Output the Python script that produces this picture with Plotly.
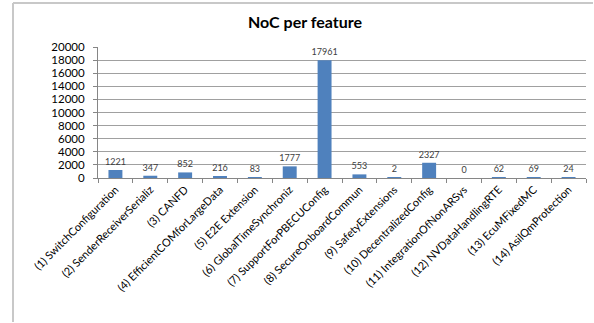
import plotly.graph_objects as go

categories = [
    "(1) SwitchConfiguration", "(2) SenderReceiverSerializ", "(3) CANFD",
    "(4) EfficientCOMforLargeData", "(5) E2E Extension", "(6) GlobalTimeSynchroniz",
    "(7) SupportForPBECUConfig", "(8) SecureOnboardCommun", "(9) SafetyExtensions",
    "(10) DecentralizedConfig", "(11) IntegrationOfNonARSys", "(12) NVDataHandlingRTE",
    "(13) EcuMFixedMC", "(14) AsilQmProtection",
]
values = [1221, 347, 852, 216, 83, 1777, 17961, 553, 2, 2327, 0, 62, 69, 24]
y_ticks = list(range(0, 20001, 2000))

W, H = 594, 323
L, R, T, B = 98, 8, 47, 145
pw, ph = W - L - R, H - T - B

fig = go.Figure(go.Bar(
    x=categories, y=values,
    marker=dict(color="#4F81BD", line=dict(width=0)),
    text=[str(v) for v in values], textposition="outside",
    textfont=dict(size=9, color="#404040", family="Lato"),
    constraintext="none",
    cliponaxis=False, width=0.4,
))

fig.update_layout(
    width=W, height=H,
    margin=dict(l=L, r=R, t=T, b=B),
    paper_bgcolor="white", plot_bgcolor="white",
    font=dict(family="Lato", color="#000000"),
    title=dict(text="<b>NoC per feature</b>", x=305 / W, xanchor="center",
               y=1 - 22 / H, yanchor="middle", font=dict(size=16, family="Lato")),
    showlegend=False,
    xaxis=dict(
        tickangle=-45, tickfont=dict(size=11, color="#000000"),
        showline=True, linecolor="#868686", linewidth=1,
        ticks="outside", ticklen=4, tickcolor="#868686", tickson="boundaries",
        showgrid=False,
    ),
    yaxis=dict(
        range=[0, 20000], tickvals=y_ticks, tickformat="d",
        tickfont=dict(size=11.5, color="#000000"), ticklabelstandoff=6,
        showline=True, linecolor="#868686", linewidth=1,
        ticks="outside", ticklen=4, tickcolor="#868686",
        showgrid=True, gridcolor="#A0A0A0", gridwidth=1, zeroline=False,
    ),
    shapes=[
        dict(type="line", xref="paper", yref="paper",
             x0=(13 - L) / pw, x1=(W - 1 - L) / pw,
             y0=(H - B - 3) / ph, y1=(H - B - 3) / ph,
             line=dict(color="#C8C8C8", width=2)),
        dict(type="line", xref="paper", yref="paper",
             x0=(13 - L) / pw, x1=(13 - L) / pw,
             y0=(H - B - 3) / ph, y1=-(B - 1) / ph,
             line=dict(color="#C8C8C8", width=2)),
    ],
)

fig.write_html("out.html", config={"displayModeBar": False})
